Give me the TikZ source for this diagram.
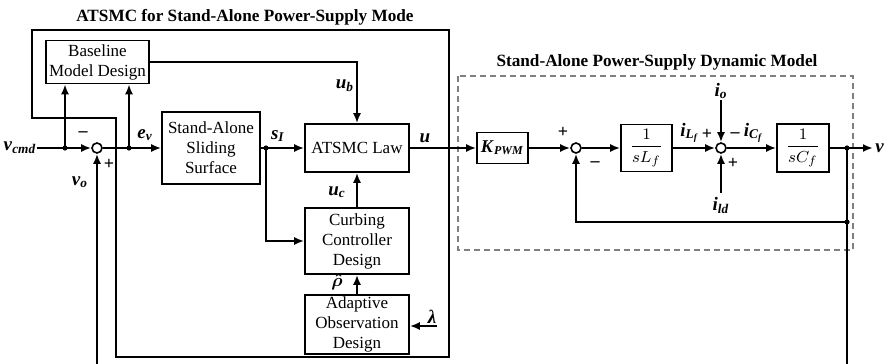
\documentclass[tikz,border=0pt]{standalone}
\usepackage{amsmath,amssymb}
\usepackage{fontspec}
\setmainfont{Liberation Serif}
\usetikzlibrary{arrows.meta}
\newcommand{\bv}[2]{\textbf{\textit{#1}}\textsubscript{\textbf{\textit{#2}}}}

\begin{document}
\begin{tikzpicture}[x=0.5pt,y=-0.5pt,
    blk/.style={draw,line width=0.8pt,align=center,inner sep=0pt,font=\fontsize{8.5}{10}\selectfont},
    sumnode/.style={draw,circle,line width=0.8pt,minimum size=5pt,inner sep=0pt,fill=white},
    sig/.style={line width=1pt,-{Latex[length=5pt,width=4pt]}},
    wire/.style={line width=1pt},
    lbl/.style={font=\fontsize{9.5}{10}\selectfont,inner sep=0pt},
    sgn/.style={font=\bfseries\fontsize{9}{9}\selectfont,inner sep=0pt},
    ttl/.style={font=\bfseries\fontsize{8.6}{10}\selectfont}]
    \useasboundingbox (0,0) rectangle (885,364);
    % titles and frames
    \node[ttl] (ttlA) at (245,17) {ATSMC for Stand-Alone Power-Supply Mode};
    \node[ttl] (ttlB) at (657,62) {Stand-Alone Power-Supply Dynamic Model};
    \draw[line width=0.7pt] (32,30) -- (449,30) -- (449,357) -- (116,357)
        -- (116,118) -- (32,118) -- cycle;                                  % ATSMC frame
    \draw[gray,densely dashed,line width=0.8pt] (458,76) rectangle (853,250); % plant frame
    % blocks
    \node[blk,minimum width=51.5pt,minimum height=21.5pt] (base) at (97.5,62) {Baseline\\Model Design};
    \node[blk,minimum width=49pt,minimum height=36pt] (slide) at (211,148) {Stand-Alone\\Sliding\\Surface};
    \node[blk,minimum width=52pt,minimum height=24pt] (law) at (357,148) {ATSMC Law};
    \node[blk,minimum width=52pt,minimum height=33pt] (curb) at (357,241) {Curbing\\Controller\\Design};
    \node[blk,minimum width=52pt,minimum height=29.5pt] (adapt) at (357,324.5) {Adaptive\\Observation\\Design};
    \node[blk,minimum width=25.5pt,minimum height=15.5pt,font=\fontsize{9}{10}\selectfont] (kpwm) at (502.5,148) {\bv{K}{PWM}};
    \node[blk,minimum width=25.5pt,minimum height=23.5pt] (invL) at (646.5,148) {$\dfrac{1}{sL_f}$};
    \node[blk,minimum width=26pt,minimum height=24pt] (invC) at (803,148) {$\dfrac{1}{sC_f}$};
    \node[sumnode] (sumA) at (97,148) {};
    \node[sumnode] (sumB) at (576,148) {};
    \node[sumnode] (sumC) at (721,148) {};
    % branch points and free ends
    \node[lbl] (vcmd) at (20,148) {\bv{v}{cmd}};
    \coordinate (jA) at (65,148);
    \coordinate (jB) at (129,148);
    \coordinate (jC) at (266,148);
    \coordinate (jD) at (847,148);
    \coordinate (jE) at (847,222);
    \coordinate (fbA) at (97,372);
    \coordinate (fbB) at (847,372);
    \coordinate (out) at (873,148);
    \coordinate (lamin) at (437,326);
    \coordinate (ioin) at (721,100);
    \coordinate (ildin) at (721,193);
    % controller signals
    \draw[wire] (vcmd.east) -- (jA);
    \draw[sig] (jA) -- (sumA.west);
    \draw[sig] (jA) -- (jA |- base.south);
    \draw[wire] (sumA.east) -- (jB);
    \draw[sig] (jB) -- (jB |- base.south);
    \draw[sig] (jB) -- (slide.west) node[lbl,midway,above=3pt]{\bv{e}{v}};
    \draw[sig] (fbA) -- (sumA.south);
    \draw[wire] (slide.east) -- (jC);
    \draw[sig] (jC) -- (law.west);
    \draw[sig] (jC) |- (curb.west);
    \draw[sig] (base.east) -| (law.north);
    \draw[sig] (curb.north) -- (law.south);
    \draw[sig] (adapt.north) -- (curb.south);
    \draw[sig] (lamin) -- (lamin -| adapt.east);
    \draw[sig] (law.east) -- (kpwm.west);
    % plant signals
    \draw[sig] (kpwm.east) -- (sumB.west);
    \draw[sig] (sumB.east) -- (invL.west);
    \draw[sig] (invL.east) -- (sumC.west);
    \draw[sig] (ioin) -- (sumC.north);
    \draw[sig] (ildin) -- (sumC.south);
    \draw[sig] (sumC.east) -- (invC.west);
    \draw[wire] (invC.east) -- (jD);
    \draw[sig] (jD) -- (out);
    \draw[sig] (jD) -- (jE) -| (sumB.south);
    \draw[wire] (jE) -- (fbB);
    \foreach \p in {jA,jB,jC,jD,jE} \fill (\p) circle (1.3pt);
    % labels
    \node[sgn] (mA) at (83,134) {–};
    \node[sgn] (pA) at (109,164) {+};
    \node[lbl] (vo) at (80,182) {\bv{v}{o}};
    \node[lbl] (sI) at (278,136) {\bv{s}{I}};
    \node[lbl] (ub) at (345,86) {\bv{u}{b}};
    \node[lbl] (uc) at (337,192) {\bv{u}{c}};
    \node[lbl] (rho) at (337,282) {$\boldsymbol{\hat{\rho}}$};
    \node[lbl] (lam) at (432,317) {\textbf{\textit{λ}}};
    \node[lbl] (u) at (425,138) {\textbf{\textit{u}}};
    \node[sgn] (pB) at (563,132) {+};
    \node[sgn] (mB) at (595,164) {–};
    \node[lbl] (iL) at (690,133) {\textbf{\textit{i}}\textsubscript{\bv{L}{f}}};
    \node[sgn] (pC) at (707,134) {+};
    \node[sgn] (mC) at (735,135) {–};
    \node[sgn] (pD) at (733,163) {+};
    \node[lbl] (iC) at (754,133) {\textbf{\textit{i}}\textsubscript{\bv{C}{f}}};
    \node[lbl] (io) at (721,91) {\bv{i}{o}};
    \node[lbl] (ild) at (721,205) {\bv{i}{ld}};
    \node[lbl,anchor=west] (vout) at (875,148) {\textbf{\textit{v}}};
\end{tikzpicture}
\end{document}
